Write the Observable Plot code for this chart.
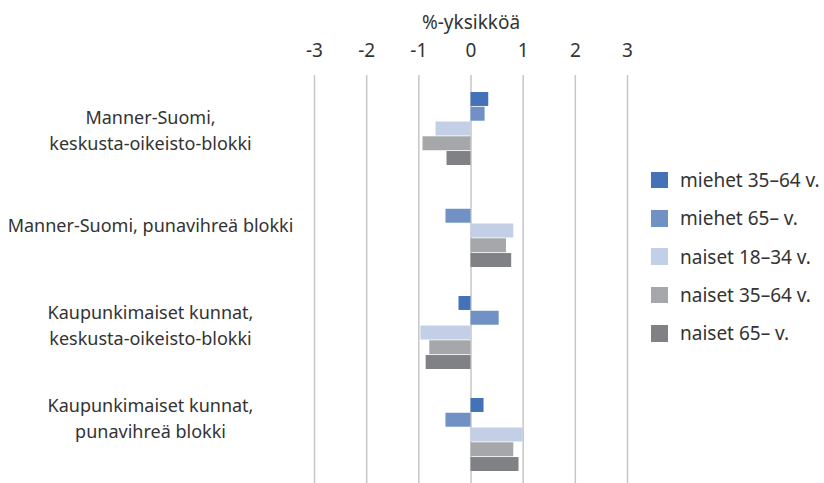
<!DOCTYPE html>
<html>
<head>
<meta charset="utf-8">
<script src="https://cdn.jsdelivr.net/npm/d3@7"></script>
<script src="https://cdn.jsdelivr.net/npm/@observablehq/plot@0.6"></script>
<style>
  html, body { margin: 0; padding: 0; background: #fff; }
  #wrap { position: relative; width: 824px; height: 483px; overflow: hidden; font-family: "Noto Sans", sans-serif; color: #333; }
  #legend { position: absolute; left: 651px; top: 161px; }
  .item { display: flex; align-items: center; height: 38.3px; font-size: 19px; }
  .sw { width: 16.5px; height: 16.5px; margin-right: 12.5px; flex: none; }
</style>
</head>
<body>
<div id="wrap"></div>
<script>
const categories = [
  "Manner-Suomi,\nkeskusta-oikeisto-blokki",
  "Manner-Suomi, punavihreä blokki",
  "Kaupunkimaiset kunnat,\nkeskusta-oikeisto-blokki",
  "Kaupunkimaiset kunnat,\npunavihreä blokki"
];
const series = ["miehet 35–64 v.", "miehet 65– v.", "naiset 18–34 v.", "naiset 35–64 v.", "naiset 65– v."];
const miehet35_64 = [0.34, 0, -0.23, 0.25];
const miehet65 = [0.27, -0.48, 0.54, -0.48];
const naiset18_34 = [-0.67, 0.82, -0.96, 1.0];
const naiset35_64 = [-0.92, 0.68, -0.79, 0.82];
const naiset65 = [-0.46, 0.78, -0.86, 0.92];
const seriesValues = [miehet35_64, miehet65, naiset18_34, naiset35_64, naiset65];
const xTicks = [-3, -2, -1, 0, 1, 2, 3];
const xLabel = "%-yksikköä";
const colors = ["#4472B8", "#7190C4", "#C2CFE6", "#A6A7AA", "#808184"];

// layout
const width = 824, height = 483, marginTop = 77, marginBottom = -4, marginLeft = 314, marginRight = 197;
const padInner = 0.28, padOuter = 0.14;
const step = (height - marginTop - marginBottom) / (categories.length - padInner + 2 * padOuter);
const bandw = step * (1 - padInner);
const sub = bandw / series.length;
const labelShift = [0, -7, -9, -18]; // vertical nudge of the category labels (px)

const barMarks = series.map((s, j) =>
  Plot.barX(categories.map((c, i) => ({cat: c, series: s, value: seriesValues[j][i]})), {
    x: "value", y: "cat", fill: "series",
    insetTop: j * sub, insetBottom: (series.length - 1 - j) * sub
  })
);

const labelMarks = categories.map((c, i) =>
  Plot.text([c], {y: d => d, text: d => d, frameAnchor: "left", dx: -164, dy: labelShift[i],
    textAnchor: "middle", lineHeight: 1.45, fill: "#333", fontSize: 18})
);

const chart = Plot.plot({
  width, height, marginTop, marginBottom, marginLeft, marginRight,
  style: {fontFamily: "Noto Sans, sans-serif", fontSize: "18px", color: "#333", background: "transparent", overflow: "visible"},
  x: {domain: [-3, 3], axis: null},
  y: {domain: categories, axis: null, paddingInner: padInner, paddingOuter: padOuter},
  color: {domain: series, range: colors},
  marks: [
    Plot.ruleX(xTicks, {x: d => d, stroke: "#c6c6c6", strokeWidth: 1.5, insetTop: -2}),
    ...barMarks,
    Plot.text(xTicks, {x: d => d, text: d => String(d), frameAnchor: "top", dy: -34, fill: "#333", fontSize: 19}),
    Plot.text([xLabel], {text: d => d, frameAnchor: "top", dy: -62, fill: "#333", fontSize: 19}),
    ...labelMarks
  ]
});
const wrap = document.getElementById("wrap");
wrap.appendChild(chart);

const legend = document.createElement("div");
legend.id = "legend";
series.forEach((s, j) => {
  const it = document.createElement("div");
  it.className = "item";
  const sw = document.createElement("span");
  sw.className = "sw";
  sw.style.background = colors[j];
  const lb = document.createElement("span");
  lb.textContent = s;
  it.appendChild(sw); it.appendChild(lb);
  legend.appendChild(it);
});
wrap.appendChild(legend);
</script>
</body>
</html>
